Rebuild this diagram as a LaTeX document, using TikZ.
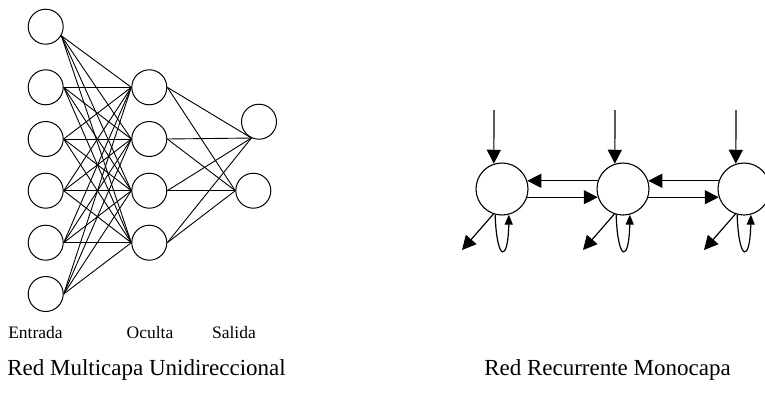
\documentclass[tikz,border=0pt]{standalone}
\usepackage{fontspec}
\setmainfont{Liberation Serif}
\usetikzlibrary{arrows.meta}
\begin{document}
\begin{tikzpicture}[x=1pt,y=-1pt,
  lc/.style={circle,draw,minimum size=35pt,inner sep=0pt,line width=1pt},
  rc/.style={circle,draw,minimum size=52pt,inner sep=0pt,line width=1.1pt},
  wire/.style={line width=0.9pt},
  arr/.style={line width=1.2pt,-{Triangle[length=14pt,width=14pt]}},
  arrs/.style={line width=1.2pt,-{Triangle[length=10pt,width=8pt]}},
  lbl/.style={font=\fontsize{17.5}{20}\selectfont,inner sep=0pt},
  ttl/.style={font=\fontsize{23}{26}\selectfont,inner sep=0pt}]
\useasboundingbox (0,0) rectangle (765,392);
\clip (0,0) rectangle (765,392);
% left network
\node[lc] (i1) at (45.7,26.7) {};
\node[lc] (i2) at (45.7,87.3) {};
\node[lc] (i3) at (45.7,139) {};
\node[lc] (i4) at (45.7,190.7) {};
\node[lc] (i5) at (45.7,242.7) {};
\node[lc] (i6) at (45.7,294) {};
\node[lc] (h1) at (149.3,87.3) {};
\node[lc] (h2) at (149.3,139) {};
\node[lc] (h3) at (149.3,190.7) {};
\node[lc] (h4) at (149.3,242.7) {};
\node[lc] (o1) at (259,121.7) {};
\node[lc] (o2) at (253.3,190.7) {};
\foreach \h in {h1,h2,h3,h4}{
  \draw[wire] (i1.-30) -- (\h.west);
  \foreach \i in {i2,i3,i4,i5,i6}{\draw[wire] (\i.east) -- (\h.west);}
  \draw[wire] (\h.east) -- (o1.-115);
  \draw[wire] (\h.east) -- (o2.west);
}
\node[lbl] (le) at (35.5,333) {Entrada};
\node[lbl] (lo) at (150,333) {Oculta};
\node[lbl] (ls) at (234,333) {Salida};
\node[ttl] (t1) at (146.5,370) {Red Multicapa Unidireccional};
% right network
\node[rc] (r1) at (502,189) {};
\node[rc] (r2) at (623,189) {};
\node[rc] (r3) at (744,189) {};
\foreach \r/\x in {r1/494,r2/615,r3/736}{
  \coordinate (top\r) at (\x,110);
  \draw[arr] (top\r) -- (\r.108);
  \coordinate (out\r) at (\x-32,250);
  \draw[arr] (\r.-109) -- (out\r);
  \draw[arrs] (\r.-105) .. controls +(1.7,48) and +(-0.7,48) .. (\r.-75);
}
\draw[arr] (r2.162) -- (r1.18);
\draw[arr] (r1.-18) -- (r2.198);
\draw[arr] (r3.162) -- (r2.18);
\draw[arr] (r2.-18) -- (r3.198);
\node[ttl] (t2) at (607.5,370) {Red Recurrente Monocapa};
\end{tikzpicture}
\end{document}
